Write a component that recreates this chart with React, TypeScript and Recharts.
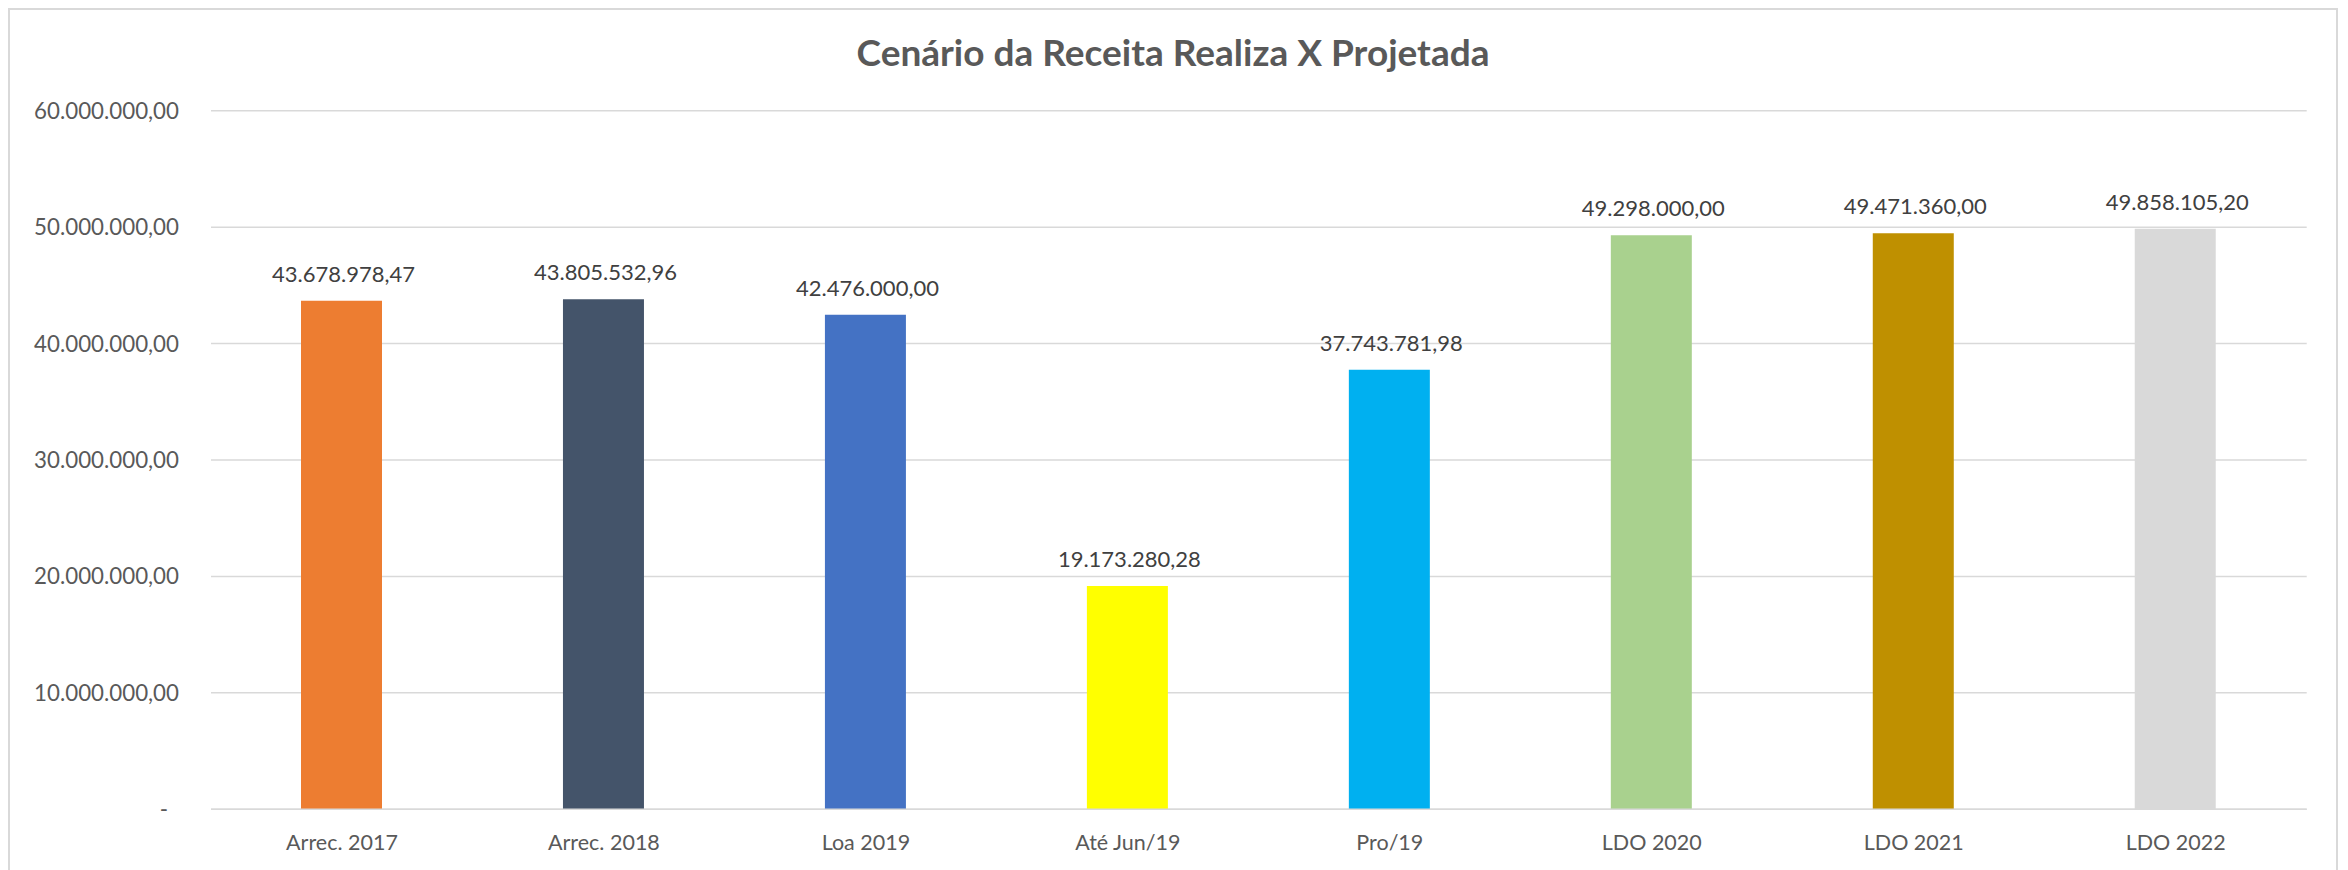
import React from "react";
import { BarChart, Bar, XAxis, YAxis, CartesianGrid, Cell, LabelList } from "recharts";

const categories = ["Arrec. 2017", "Arrec. 2018", "Loa 2019", "Até Jun/19", "Pro/19", "LDO 2020", "LDO 2021", "LDO 2022"];
const values = [43678978.47, 43805532.96, 42476000.0, 19173280.28, 37743781.98, 49298000.0, 49471360.0, 49858105.2];
const barColors = ["#ED7D31", "#44546A", "#4472C4", "#FFFF00", "#00B0F0", "#A9D18E", "#BF9000", "#D9D9D9"];
const yTicks = [0, 10000000, 20000000, 30000000, 40000000, 50000000, 60000000];
const title = "Cenário da Receita Realiza X Projetada";

const data = categories.map((c, i) => ({ name: c, value: values[i] }));

const FONT = "Lato, 'Open Sans', sans-serif";

function fmt(v: number): string {
  const neg = v < 0;
  const abs = Math.abs(v);
  const fixed = abs.toFixed(2);
  const [intPart, dec] = fixed.split(".");
  const withDots = intPart.replace(/\B(?=(\d{3})+(?!\d))/g, ".");
  return (neg ? "-" : "") + withDots + "," + dec;
}

const YTick = (props: any) => {
  const { x, y, payload } = props;
  const isZero = payload.value === 0;
  return (
    <text
      x={x - (isZero ? 11 : 0)}
      y={y}
      dy="0.36em"
      textAnchor="end"
      fill="#595959"
      fontSize={22.3}
      fontFamily={FONT}
    >
      {isZero ? "-" : fmt(payload.value)}
    </text>
  );
};

const XTick = (props: any) => {
  const { x, y, payload } = props;
  return (
    <text x={x} y={y + 41} textAnchor="middle" fill="#595959" fontSize={21.5} fontFamily={FONT}>
      {payload.value}
    </text>
  );
};

const TopLabel = (props: any) => {
  const { x, y, width, value } = props;
  return (
    <text x={x + width / 2 + 2} y={y - 19} textAnchor="middle" fill="#404040" fontSize={22} fontFamily={FONT}>
      {fmt(value)}
    </text>
  );
};

export default function App() {
  return (
    <div
      style={{
        position: "relative",
        width: 2326,
        height: 860,
        borderTop: "2px solid #D9D9D9",
        borderLeft: "2px solid #D9D9D9",
        borderRight: "2px solid #D9D9D9",
        background: "#FFFFFF",
        overflow: "hidden",
        fontFamily: FONT,
      }}
    >
      <div
        style={{
          position: "absolute",
          left: 0,
          top: 20,
          width: 2326,
          textAlign: "center",
          fontSize: 37,
          fontWeight: 700,
          color: "#595959",
          fontFamily: FONT,
          lineHeight: "44px",
        }}
      >
        {title}
      </div>
      <BarChart
        width={2326}
        height={860}
        data={data}
        margin={{ top: 100.7, right: 29.3, left: 0, bottom: 20.7 }}
      >
        <CartesianGrid vertical={false} stroke="#D9D9D9" strokeWidth={1.5} />
        <XAxis
          dataKey="name"
          height={40}
          axisLine={{ stroke: "#D9D9D9", strokeWidth: 1.5 }}
          tickLine={false}
          tickSize={0}
          tickMargin={0}
          tick={<XTick />}
          interval={0}
        />
        <YAxis
          width={201}
          domain={[0, 60000000]}
          ticks={yTicks}
          axisLine={false}
          tickLine={false}
          tickSize={0}
          tickMargin={32}
          tick={<YTick />}
          interval={0}
        />
        <Bar dataKey="value" barSize={81} isAnimationActive={false}>
          {data.map((d, i) => (
            <Cell key={d.name} fill={barColors[i]} />
          ))}
          <LabelList dataKey="value" content={<TopLabel />} />
        </Bar>
      </BarChart>
    </div>
  );
}
